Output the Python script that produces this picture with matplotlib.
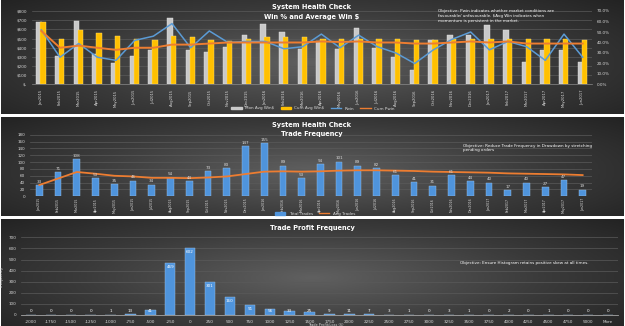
import numpy as np
import matplotlib.pyplot as plt
from matplotlib.colors import LinearSegmentedColormap
from matplotlib.lines import Line2D
from matplotlib.patches import Patch

# ---- data ----
months = ["Jan2015", "Feb2015", "Mar2015", "Apr2015", "May2015", "Jun2015",
          "Jul2015", "Aug2015", "Sep2015", "Oct2015", "Nov2015", "Dec2015",
          "Jan2016", "Feb2016", "Mar2016", "Apr2016", "May2016", "Jun2016",
          "Jul2016", "Aug2016", "Sep2016", "Oct2016", "Nov2016", "Dec2016",
          "Jan2017", "Feb2017", "Mar2017", "Apr2017", "May2017", "Jun2017"]
mon_avg_win = [680, 313, 690, 332, 230, 310, 378, 720, 378, 350, 403, 537, 663, 566, 386,
               476, 386, 620, 392, 303, 162, 486, 544, 537, 648, 594, 241, 375, 375, 241]
cum_avg_win = [680, 500, 598, 562, 533, 500, 483, 533, 519, 483, 476, 490, 519, 519, 512,
               500, 500, 500, 500, 490, 486, 486, 500, 500, 500, 500, 490, 490, 490, 486]
pwin = [52, 26, 39, 26, 23, 42, 46, 58, 35, 51, 40, 41, 41, 34, 36,
        48, 35, 47, 36, 30, 20, 33, 43, 50, 33, 41, 36, 23, 48, 26]
cum_pwin = [51, 35, 37, 35, 33, 35, 35, 38, 38, 39, 40, 40, 40, 40, 40,
            41, 40.5, 41, 40, 40, 39, 39, 40, 41, 40, 41, 39, 39, 39, 39]

total_trades = [33, 71, 108, 53, 35, 46, 34, 54, 44, 73, 83, 147, 155, 89, 53,
                94, 101, 89, 82, 61, 41, 31, 61, 44, 40, 17, 40, 27, 47, 19]
avg_trades = [33, 52, 71, 66, 60, 58, 54, 54, 53, 55, 58, 65, 72, 73, 72,
              73, 75, 76, 76, 75, 74, 72, 71, 70, 69, 67, 66, 65, 64, 62]

profit_bins = ["-2000", "-1750", "-1500", "-1250", "-1000", "-750", "-500", "-250", "0",
               "250", "500", "750", "1000", "1250", "1500", "1750", "2000", "2250", "2500",
               "2750", "3000", "3250", "3500", "3750", "4000", "4250", "4500", "4750",
               "5000", "More"]
profit_freq = [0, 0, 0, 0, 1, 13, 41, 469, 602, 301, 160, 91, 56, 33, 25,
               9, 11, 7, 3, 1, 0, 3, 1, 0, 2, 0, 1, 0, 0, 0]

W, H = 625, 326
fig = plt.figure(figsize=(W / 100, H / 100), dpi=100, facecolor='white')
plt.rcParams['font.family'] = ['DejaVu Sans']

txt = '#d9d9d9'
grid_c = '#5a5a5a'
bg_cmap = LinearSegmentedColormap.from_list('bg', ['#606060', '#3a3a3a', '#1c1c1c'])


def px_rect(x0, y0, x1, y1):
    return [x0 / W, 1 - y1 / H, (x1 - x0) / W, (y1 - y0) / H]


def panel_bg(y0, y1):
    bg = fig.add_axes(px_rect(1, y0, W - 1, y1))
    yy, xx = np.mgrid[0:1:120j, 0:1:240j]
    r = np.sqrt(((xx - 0.5) / 0.75) ** 2 + ((yy - 0.55) / 0.95) ** 2)
    bg.imshow(r, cmap=bg_cmap, vmin=0, vmax=1, aspect='auto')
    bg.axis('off')


def style(ax):
    ax.set_facecolor('none')
    for s in ax.spines.values():
        s.set_visible(False)
    ax.tick_params(length=0, colors=txt, labelsize=3)
    ax.yaxis.grid(True, color=grid_c, lw=0.5)
    ax.set_axisbelow(True)


def title(y, s):
    fig.text(312 / W, 1 - y / H, s, color='white', fontsize=4.8,
             fontweight='bold', ha='center', va='center')


panel_bg(0, 114)
panel_bg(117, 216)
panel_bg(219, 326)

x = np.arange(len(months))

# ---- panel 1: win % and average win ----
ax1 = fig.add_axes(px_rect(32, 11, 592, 84.5))
style(ax1)
ax1.bar(x - 0.12, mon_avg_win, width=0.3, color='#c9c9c9', edgecolor='#e6e6e6', lw=0.3, zorder=2)
ax1.bar(x + 0.09, cum_avg_win, width=0.3, color='#ffc000', edgecolor='#ffe07a', lw=0.3, zorder=3)
ax1.set_ylim(0, 800)
ax1.set_yticks(range(0, 801, 100))
ax1.set_yticklabels(['$-'] + [f'${v}' for v in range(100, 801, 100)])
ax1.set_xlim(-0.5, len(months) - 0.5)
ax1.set_xticks(x)
ax1.set_xticklabels(months, rotation=90, fontsize=2.7)
ax1.spines['bottom'].set_visible(True)
ax1.spines['bottom'].set_color('#8c8c8c')
ax1.spines['bottom'].set_linewidth(0.5)
ax1b = ax1.twinx()
style(ax1b)
ax1b.yaxis.grid(False)
ax1b.plot(x, pwin, color='#5b9bd5', lw=1.1, zorder=4)
ax1b.plot(x, cum_pwin, color='#ed7d31', lw=1.4, zorder=5)
ax1b.set_ylim(0, 70)
ax1b.set_yticks(range(0, 71, 10))
ax1b.set_yticklabels([f'{v:.1f}%' for v in range(0, 71, 10)])

title(7, 'System Health Check')
title(17, 'Win % and Average Win $')
fig.text(438 / W, 1 - 16 / H,
         'Objective: Pwin indicates whether market conditions are\n'
         'favourable/ unfavourable. $Avg Win indicates when\n'
         'momentum is persistent in the market.',
         color='white', fontsize=3, ha='left', va='center', linespacing=1.3)
fig.legend(handles=[Patch(color='#c9c9c9', label='Mon Avg Win$'),
                    Patch(color='#ffc000', label='Cum Avg Win$'),
                    Line2D([], [], color='#5b9bd5', lw=1, label='Pwin'),
                    Line2D([], [], color='#ed7d31', lw=1, label='Cum Pwin')],
           loc='center', bbox_to_anchor=(313 / W, 1 - 108.5 / H), ncol=4, frameon=False,
           fontsize=3, labelcolor=txt, handlelength=2.5, handleheight=0.6, columnspacing=1.5)

# ---- panel 2: trade frequency ----
ax2 = fig.add_axes(px_rect(30, 134.7, 592, 196.3))
style(ax2)
ax2.bar(x, total_trades, width=0.36, color='#4f94dc', edgecolor='#9dc3e6', lw=0.3, zorder=2)
ax2.plot(x, avg_trades, color='#ed7d31', lw=1.3, zorder=3)
for xi, v in zip(x, total_trades):
    ax2.text(xi, v + 4, str(v), color=txt, fontsize=3, ha='center', va='bottom', zorder=4)
ax2.set_ylim(0, 180)
ax2.set_yticks(range(0, 181, 20))
ax2.set_xlim(-0.5, len(months) - 0.5)
ax2.set_xticks(x)
ax2.set_xticklabels(months, rotation=90, fontsize=2.3)
ax2.tick_params(axis='x', pad=1)

title(125, 'System Health Check')
title(134, 'Trade Frequency')
fig.text(463 / W, 1 - 148 / H,
         'Objective: Reduce Trade Frequency in Drawdown by stretching\npending orders',
         color='white', fontsize=3, ha='left', va='center', linespacing=1.3)
fig.legend(handles=[Patch(color='#4f94dc', label='Total Trades'),
                    Line2D([], [], color='#ed7d31', lw=1, label='Avg Trades')],
           loc='center', bbox_to_anchor=(315 / W, 1 - 213.8 / H), ncol=2, frameon=False,
           fontsize=3, labelcolor=txt, handlelength=2.5, handleheight=0.6, columnspacing=1.5,
           borderpad=0.05)

# ---- panel 3: trade profit frequency ----
xb = np.arange(len(profit_bins))
ax3 = fig.add_axes(px_rect(21, 237.3, 618, 315))
style(ax3)
ax3.bar(xb, profit_freq, width=0.52, color='#4f94dc', edgecolor='#9dc3e6', lw=0.3, zorder=2)
for xi, v in zip(xb, profit_freq):
    ax3.text(xi, max(v - 38, 33), str(v), color='white', fontsize=3, ha='center',
             va='center', zorder=4)
ax3.set_ylim(0, 700)
ax3.set_yticks(range(0, 701, 100))
ax3.set_xlim(-0.5, len(profit_bins) - 0.5)
ax3.set_xticks(xb)
ax3.set_xticklabels(profit_bins)
ax3.spines['bottom'].set_visible(True)
ax3.spines['bottom'].set_color('#a6a6a6')
ax3.spines['bottom'].set_linewidth(0.6)
ax3.set_ylabel('Frequency', color=txt, fontsize=3, labelpad=3)

title(228, 'Trade Profit Frequency')
fig.text(460 / W, 1 - 263 / H,
         'Objective: Ensure Histogram retains positive skew at all times.',
         color='white', fontsize=3, ha='left', va='center')
fig.text(308 / W, 1 - 325 / H, 'Trade Profit/Loss ($)', color=txt, fontsize=2.5,
         ha='left', va='center')

fig.savefig('out.png', dpi=100, facecolor='white')
